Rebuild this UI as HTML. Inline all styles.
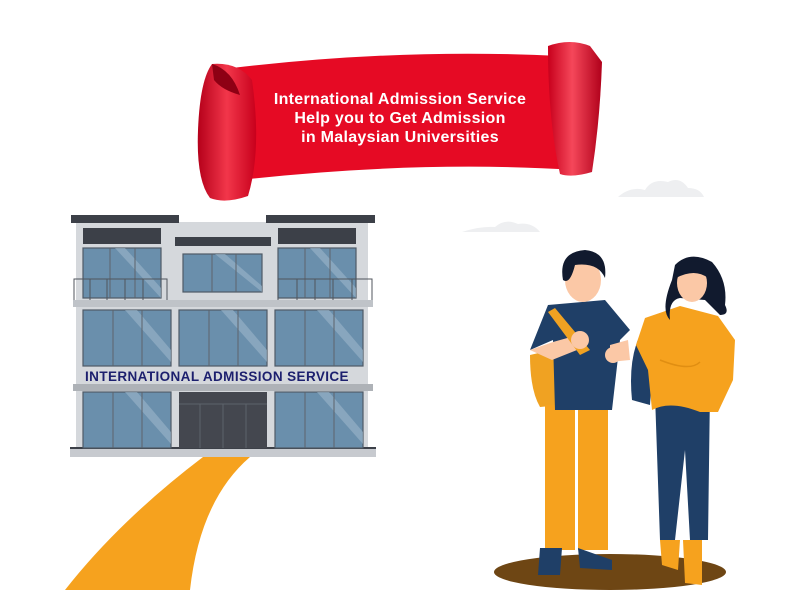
<!DOCTYPE html>
<html><head><meta charset="utf-8"><style>
html,body{margin:0;padding:0;background:#fff;width:800px;height:600px;overflow:hidden}
svg{display:block}
</style></head><body>
<svg width="800" height="600" viewBox="0 0 800 600" xmlns="http://www.w3.org/2000/svg">
<defs>
<linearGradient id="rl" x1="0" x2="1"><stop offset="0" stop-color="#b5001a"/><stop offset="0.5" stop-color="#f2364a"/><stop offset="1" stop-color="#c8001c"/></linearGradient>
<linearGradient id="rr" x1="0" x2="1"><stop offset="0" stop-color="#c8001c"/><stop offset="0.45" stop-color="#f5475a"/><stop offset="1" stop-color="#b0001a"/></linearGradient>
</defs>
<!-- clouds -->
<path d="M618 197 Q630 186 645 190 Q652 178 668 182 Q680 176 688 188 Q700 188 704 197 Z" fill="#eeeff1"/>
<path d="M462 232 Q480 226 495 227 Q505 218 518 224 Q532 222 540 232 Z" fill="#eeeff1"/>
<!-- banner -->
<path d="M232 68 Q400 48 560 56 L575 170 Q420 160 240 180 Z" fill="#e60a24"/>
<path d="M212 64 Q238 62 252 80 Q262 150 248 196 Q225 204 210 198 Q196 180 198 130 Q200 80 212 64 Z" fill="url(#rl)"/>
<path d="M212 64 Q232 70 240 95 Q222 90 214 80 Z" fill="#8e0014"/>
<path d="M548 46 Q570 38 590 46 L602 62 Q600 120 592 172 Q572 178 560 174 Q548 120 548 46 Z" fill="url(#rr)"/>
<g fill="#fff" font-family="Liberation Sans, sans-serif" font-size="16" font-weight="bold" letter-spacing="0.3" text-anchor="middle">
<text x="400" y="104">International Admission Service</text>
<text x="400" y="123">Help you to Get Admission</text>
<text x="400" y="142">in Malaysian Universities</text>
</g>
<!-- path -->
<path d="M203 457 L250 457 Q200 500 190 590 L65 590 Q120 520 203 457 Z" fill="#f6a21e"/>
<!-- building -->
<rect x="76" y="222" width="292" height="228" fill="#d5d8dc"/>
<rect x="178" y="240" width="90" height="10" fill="#d5d8dc"/>
<rect x="71" y="215" width="108" height="8" fill="#3c4048"/>
<rect x="266" y="215" width="109" height="8" fill="#3c4048"/>
<rect x="175" y="237" width="96" height="9" fill="#3c4048"/>
<rect x="83" y="228" width="78" height="16" fill="#3c4048"/>
<rect x="278" y="228" width="78" height="16" fill="#3c4048"/>
<rect x="73" y="300" width="300" height="7" fill="#bfc3c8"/>
<rect x="73" y="384" width="300" height="7" fill="#aeb2b7"/>
<rect x="70" y="448" width="306" height="9" fill="#c7cacf"/>
<rect x="70" y="447" width="306" height="2" fill="#3c4048"/>
<g fill="#6a8fac" stroke="#4f5a66" stroke-width="1.2">
<rect x="83" y="248" width="78" height="50"/>
<rect x="183" y="254" width="79" height="38"/>
<rect x="278" y="248" width="78" height="50"/>
<rect x="83" y="310" width="88" height="56"/>
<rect x="179" y="310" width="88" height="56"/>
<rect x="275" y="310" width="88" height="56"/>
<rect x="83" y="392" width="88" height="56"/>
<rect x="275" y="392" width="88" height="56"/>
</g>
<g fill="#9db6ca" opacity="0.6">
<path d="M125 310 L137 310 L171 350 L171 362Z"/><path d="M221 310 L233 310 L267 350 L267 362Z"/><path d="M317 310 L329 310 L363 350 L363 362Z"/>
<path d="M125 392 L137 392 L171 432 L171 444Z"/><path d="M317 392 L329 392 L363 432 L363 444Z"/>
<path d="M115 248 L125 248 L161 288 L161 298Z"/><path d="M310 248 L320 248 L356 288 L356 298Z"/><path d="M215 254 L225 254 L262 286 L262 292Z"/>
</g>
<rect x="179" y="392" width="88" height="56" fill="#44474f"/>
<g stroke="#5d636b" stroke-width="1">
<line x1="179" y1="404" x2="267" y2="404"/><line x1="200" y1="404" x2="200" y2="448"/><line x1="223" y1="404" x2="223" y2="448"/><line x1="246" y1="404" x2="246" y2="448"/>
<line x1="110" y1="248" x2="110" y2="298"/><line x1="135" y1="248" x2="135" y2="298"/><line x1="305" y1="248" x2="305" y2="298"/><line x1="330" y1="248" x2="330" y2="298"/>
<line x1="212" y1="254" x2="212" y2="292"/><line x1="236" y1="254" x2="236" y2="292"/>
<line x1="113" y1="310" x2="113" y2="366"/><line x1="142" y1="310" x2="142" y2="366"/><line x1="209" y1="310" x2="209" y2="366"/><line x1="238" y1="310" x2="238" y2="366"/><line x1="305" y1="310" x2="305" y2="366"/><line x1="334" y1="310" x2="334" y2="366"/>
<line x1="113" y1="392" x2="113" y2="448"/><line x1="142" y1="392" x2="142" y2="448"/><line x1="305" y1="392" x2="305" y2="448"/><line x1="334" y1="392" x2="334" y2="448"/>
</g>
<g stroke="#50555c" stroke-width="1" fill="none">
<path d="M74 300 V279 H167 V300 M90 279V300 M107 279V300 M125 279V300 M143 279V300"/>
<path d="M278 300 V279 H372 V300 M297 279V300 M315 279V300 M333 279V300 M352 279V300"/>
</g>
<text x="217" y="381" text-anchor="middle" font-family="Liberation Sans, sans-serif" font-weight="bold" font-size="13.5" letter-spacing="0.4" fill="#1c1f6e">INTERNATIONAL ADMISSION SERVICE</text>
<!-- people -->
<ellipse cx="610" cy="572" rx="116" ry="18" fill="#6e4614"/>
<!-- boy -->
<path d="M530 355 L560 348 L562 405 L540 407 Q530 390 530 355Z" fill="#f0a222"/>
<rect x="545" y="405" width="30" height="145" fill="#f6a21e"/>
<rect x="578" y="405" width="30" height="145" fill="#f6a21e"/>
<path d="M540 548 L562 548 L560 575 L538 575Z M578 548 L612 560 L612 570 L580 568Z" fill="#1f3f67"/>
<path d="M548 305 L605 300 L630 330 L620 340 L612 410 L555 410 L553 340 L530 350 Z" fill="#1f3f67"/>
<path d="M530 350 L553 342 L578 335 L582 348 L552 360 Z" fill="#fbc8a6"/>
<path d="M610 345 L628 340 L630 360 L610 362Z" fill="#fbc8a6"/>
<path d="M555 308 L590 350 L580 355 L548 312Z" fill="#f0a222"/>
<circle cx="580" cy="340" r="9" fill="#fbc8a6"/>
<circle cx="613" cy="355" r="8" fill="#fbc8a6"/>
<ellipse cx="583" cy="280" rx="18" ry="22" fill="#fbc8a6"/>
<path d="M563 280 Q558 252 585 250 Q608 252 605 278 Q598 262 575 265 Q570 285 563 280Z" fill="#111a2e"/>
<!-- girl -->
<path d="M640 335 Q628 360 632 400 L650 405 L655 330Z" fill="#1f3f67"/>
<path d="M655 395 L710 390 L708 540 L690 540 L685 450 L675 540 L660 540 Z" fill="#1f3f67"/>
<path d="M660 540 L680 540 L678 570 L662 565Z M683 540 L702 540 L702 585 L685 583Z" fill="#f6a21e"/>
<path d="M645 318 L680 306 L718 316 L735 340 L733 380 L718 412 L700 412 Q670 400 652 410 L648 370 L636 345 Z" fill="#f6a21e"/>
<path d="M660 360 Q690 372 700 362" stroke="#e08e12" stroke-width="1.5" fill="none"/>
<path d="M675 265 Q690 250 712 262 Q728 280 725 305 Q730 315 720 315 L705 300 L680 298 Q668 300 670 320 Q660 310 672 280Z" fill="#111a2e"/>
<ellipse cx="692" cy="283" rx="15" ry="19" fill="#fbc8a6"/>
<path d="M676 278 Q680 258 700 262 Q710 266 708 278 Q695 268 676 278Z" fill="#111a2e"/>
</svg>
</body></html>
